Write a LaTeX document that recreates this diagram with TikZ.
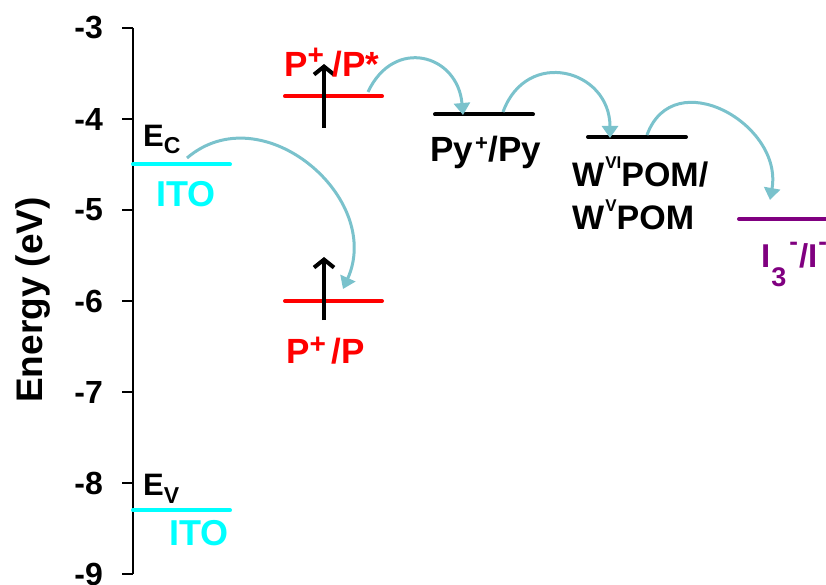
\documentclass[tikz,border=0pt]{standalone}
\usepackage{fontspec}
\setmainfont{Liberation Sans}
\usepackage{graphicx}
\usetikzlibrary{arrows.meta}
\definecolor{hopc}{RGB}{122,194,204}
\definecolor{itoc}{RGB}{0,255,255}
\definecolor{purp}{RGB}{128,0,128}
\newcommand\fs[1]{\fontsize{#1}{#1}\selectfont}
\newcommand\up[3]{\raisebox{#1}{\fs{#2}#3}}
\begin{document}
\begin{tikzpicture}[x=1pt,y=1pt,
  lbl/.style={inner sep=0pt, anchor=base west, font=\bfseries\fs{34}},
  ticklbl/.style={inner sep=0pt, anchor=east, font=\bfseries\fs{32}},
  level/.style={line width=4pt, line cap=round},
  hop/.style={draw=hopc, line width=3pt, -{Triangle[length=12pt,width=16pt]}},
  excite/.style={line width=4pt, -{Straight Barb[length=8pt,width=20pt]}}]
\useasboundingbox (0,0) rectangle (826,584);

% axis
\coordinate (ax0) at (133,556);
\coordinate (ax1) at (133,10);
\draw[line width=2.8pt] (ax0) -- (ax1);
\foreach \i/\v in {0/-3,1/-4,2/-5,3/-6,4/-7,5/-8,6/-9} {
  \pgfmathsetmacro\Y{556-91*\i}
  \draw[line width=2.8pt] (122,\Y) -- (133,\Y);
  \node[ticklbl] (tl\i) at (103,\Y) {\v};
}
\node[rotate=90, anchor=base, inner sep=0pt, font=\bfseries\fs{37}] (ylab) at (42,284) {Energy (eV)};

% ITO levels
\coordinate (ec0) at (133,419.5); \coordinate (ec1) at (230,419.5);
\draw[level, itoc] (ec0) -- (ec1);
\coordinate (ev0) at (133,73.7); \coordinate (ev1) at (230,73.7);
\draw[level, itoc] (ev0) -- (ev1);
\node[lbl, font=\bfseries\fs{31}] (ecl) at (143,437) {E\up{-7pt}{23}{C}};
\node[lbl, text=itoc, font=\bfseries\fs{36}] (ito1) at (156,377) {ITO};
\node[lbl, font=\bfseries\fs{31}] (evl) at (143,89) {E\up{-8pt}{23}{V}};
\node[lbl, text=itoc, font=\bfseries\fs{36}] (ito2) at (169,39) {ITO};

% P levels
\coordinate (ps0) at (285,487.75); \coordinate (ps1) at (382,487.75);
\draw[level, red] (ps0) -- (ps1);
\coordinate (pg0) at (285,283); \coordinate (pg1) at (382,283);
\draw[level, red] (pg0) -- (pg1);
\coordinate (ea0) at (324,456); \coordinate (ea1) at (324,520);
\draw[excite] (ea0) -- (ea1);
\coordinate (eb0) at (324,264); \coordinate (eb1) at (324,327);
\draw[excite] (eb0) -- (eb1);
\node[lbl, text=red, font=\bfseries\fs{35}] (psl) at (284,507) {P\up{12pt}{28}{+}\hspace{9pt}/P*};
\node[lbl, text=red, font=\bfseries\fs{35}] (pgl) at (286,221) {P\up{10pt}{28}{+}\hspace{6pt}/P};

% Py level
\coordinate (py0) at (435,469.5); \coordinate (py1) at (533,469.5);
\draw[level] (py0) -- (py1);
\node[lbl, font=\bfseries\fs{35}] (pyl) at (430,422) {Py\hspace{2pt}\up{11pt}{22}{+}\hspace{1pt}/Py};

% POM level
\coordinate (w0) at (588,447); \coordinate (w1) at (686,447);
\draw[level] (w0) -- (w1);
\node[lbl] (wl1) at (572,397) {W\hspace{1pt}\up{18pt}{17}{VI}POM/};
\node[lbl] (wl2) at (572,354) {W\hspace{1pt}\up{18pt}{17}{V}POM};

% iodide level
\coordinate (i0) at (739,365); \coordinate (i1) at (840,365);
\draw[level, purp] (i0) -- (i1);
\node[lbl, text=purp, font=\bfseries\fs{33}] (il) at (761,316) {I\hspace{1pt}\up{-19pt}{27}{3}\hspace{3pt}\up{17pt}{26}{-}\hspace{1pt}/I\hspace{1pt}\up{17pt}{26}{-}};

% electron hops
\coordinate (h1s) at (187,426); \coordinate (h1e) at (343,295);
\draw[hop] (h1s) .. controls (262,490) and (384,386) .. (h1e);
\coordinate (h2s) at (368,492); \coordinate (h2e) at (463,469);
\draw[hop] (h2s) to[out=65,in=95,looseness=1.6] (h2e);
\coordinate (h3s) at (503,472); \coordinate (h3e) at (610,446);
\draw[hop] (h3s) to[out=70,in=90,looseness=1.6] (h3e);
\coordinate (h4s) at (647,449); \coordinate (h4e) at (770,384);
\draw[hop] (h4s) to[out=70,in=80,looseness=1.42] (h4e);
\end{tikzpicture}
\end{document}
